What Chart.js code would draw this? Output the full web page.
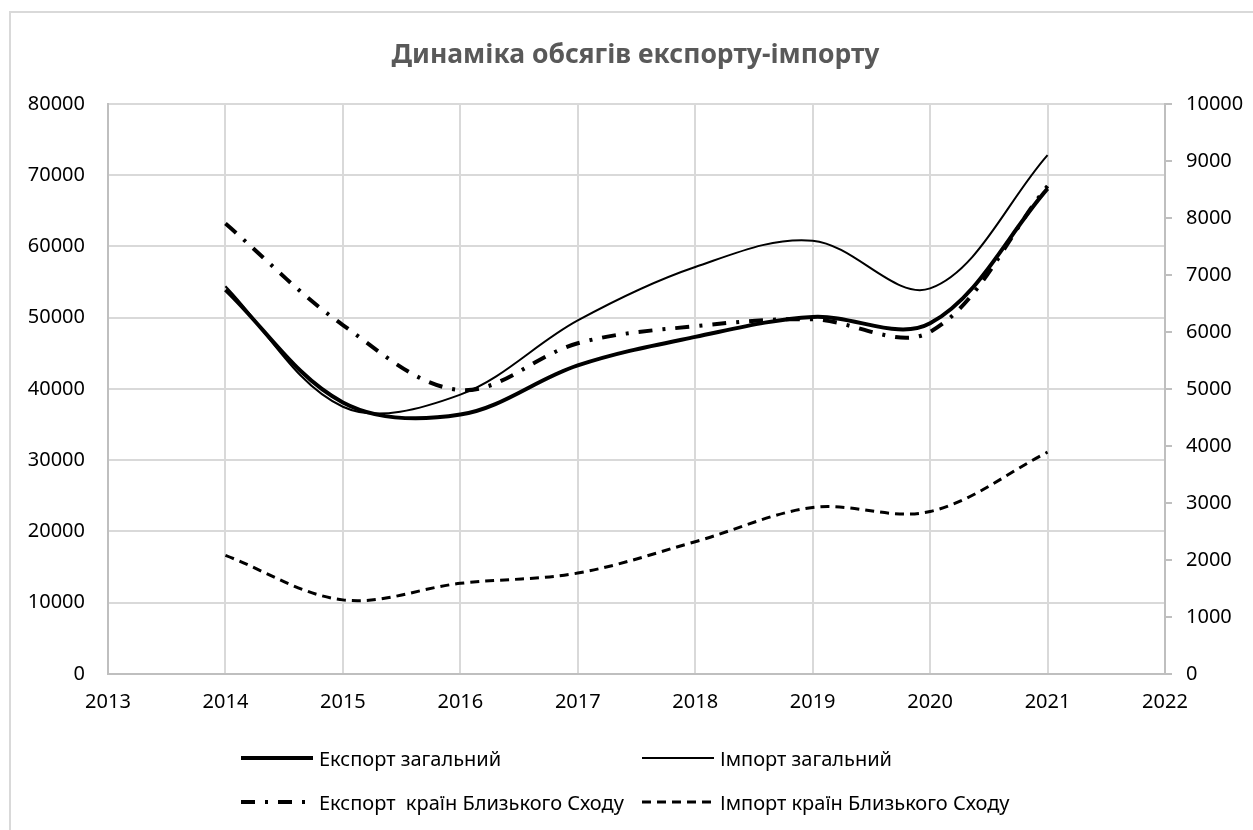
<!DOCTYPE html>
<html>
<head>
<meta charset="utf-8">
<script src="https://cdn.jsdelivr.net/npm/chart.js@4.4.1/dist/chart.umd.min.js"></script>
<style>
  html, body { margin: 0; padding: 0; background: #fff; overflow: hidden; }
  #wrap { position: relative; width: 1253px; height: 830px; }
  #frame { position: absolute; left: 9px; top: 11px; width: 1300px; height: 900px; border: 2px solid #d9d9d9; }
  #mycanvas { position: absolute; left: 0; top: 0; }
  #legend { position: absolute; left: 241px; top: 736px; display: grid;
            grid-template-columns: 401px auto; grid-auto-rows: 44px;
            font-family: "Noto Sans", sans-serif; font-size: 20px; color: #000; }
  #legend .item { display: flex; align-items: center; white-space: pre; }
  #legend svg { flex: none; margin-right: 6px; }
</style>
</head>
<body>
<div id="wrap">
  <div id="frame"></div>
  <canvas id="mycanvas" width="1253" height="830"></canvas>
  <div id="legend"></div>
</div>
<script>
var years = [2014, 2015, 2016, 2017, 2018, 2019, 2020, 2021];
var exportTotal = [53900, 38100, 36400, 43300, 47300, 50100, 49200, 68100];
var importTotal = [54400, 37500, 39200, 49600, 57100, 60800, 54100, 72800];
var exportME = [7900, 6120, 4980, 5800, 6100, 6220, 6000, 8560];
var importME = [2080, 1300, 1590, 1770, 2320, 2920, 2850, 3890];

var labelsSeries = ["Експорт загальний", "Імпорт загальний", "Експорт  країн Близького Сходу", "Імпорт країн Близького Сходу"];

function toPoints(vals) {
	var pts = [];
	for (var i in years) {
		pts.push({x: years[i], y: vals[i]});
	}
	return pts;
}

var font = {family: "Noto Sans", size: 20};

var htmlLegend = {
	id: 'htmlLegend',
	afterUpdate: function(chart) {
		var box = document.getElementById('legend');
		box.innerHTML = '';
		chart.data.datasets.forEach(function(ds) {
			var item = document.createElement('div');
			item.className = 'item';
			var dash = (ds.borderDash || []).join(',');
			item.innerHTML = '<svg width="72" height="10"><line x1="0" y1="5" x2="72" y2="5" stroke="#000" stroke-width="' +
				ds.borderWidth + '"' + (dash ? ' stroke-dasharray="' + dash + '"' : '') + '/></svg>';
			var span = document.createElement('span');
			span.textContent = ds.label;
			item.appendChild(span);
			box.appendChild(item);
		});
	}
};

var chartdata = {
	datasets: [
		{
			label: labelsSeries[0],
			data: toPoints(exportTotal),
			borderColor: "#000",
			borderWidth: 4,
			yAxisID: 'y'
		},
		{
			label: labelsSeries[1],
			data: toPoints(importTotal),
			borderColor: "#000",
			borderWidth: 2,
			yAxisID: 'y'
		},
		{
			label: labelsSeries[2],
			data: toPoints(exportME),
			borderColor: "#000",
			borderWidth: 4,
			borderDash: [14, 10, 3, 10],
			yAxisID: 'y1'
		},
		{
			label: labelsSeries[3],
			data: toPoints(importME),
			borderColor: "#000",
			borderWidth: 3,
			borderDash: [9, 6],
			yAxisID: 'y1'
		}
	]
};

var ctx = document.getElementById('mycanvas');

var LineGraph = new Chart(ctx, {
	type: 'line',
	data: chartdata,
	plugins: [htmlLegend],
	options: {
		responsive: false,
		animation: false,
		layout: {padding: {left: 18, right: 0, top: 0, bottom: 0}},
		elements: {
			line: {tension: 0.35, fill: false, borderCapStyle: 'butt'},
			point: {radius: 0, hoverRadius: 0}
		},
		plugins: {
			legend: {display: false},
			tooltip: {enabled: false},
			title: {
				display: true,
				text: "Динаміка обсягів експорту-імпорту",
				color: "#595959",
				font: {family: "Noto Sans", size: 26.5, weight: 'bold'},
				padding: {top: 40, bottom: 32}
			}
		},
		scales: {
			x: {
				type: 'linear',
				min: 2013,
				max: 2022,
				afterFit: function(s) { s.height = 156; },
				ticks: {stepSize: 1, color: "#000", font: font, padding: 16,
					callback: function(v) { return String(v); }},
				grid: {color: "#d9d9d9", lineWidth: 2, drawTicks: false},
				border: {color: "#bfbfbf", width: 2}
			},
			y: {
				position: 'left',
				min: 0,
				max: 80000,
				afterFit: function(s) { s.width = 90; },
				ticks: {stepSize: 10000, color: "#000", font: font, padding: 23,
					callback: function(v) { return String(v); }},
				grid: {color: "#d9d9d9", lineWidth: 2, drawTicks: false},
				border: {color: "#bfbfbf", width: 2}
			},
			y1: {
				position: 'right',
				min: 0,
				max: 10000,
				afterFit: function(s) { s.width = 88; },
				ticks: {stepSize: 1000, color: "#000", font: font, padding: 14,
					callback: function(v) { return String(v); }},
				grid: {drawOnChartArea: false, color: "#bfbfbf", lineWidth: 2, tickLength: 7},
				border: {color: "#bfbfbf", width: 2}
			}
		}
	}
});
</script>
</body>
</html>
